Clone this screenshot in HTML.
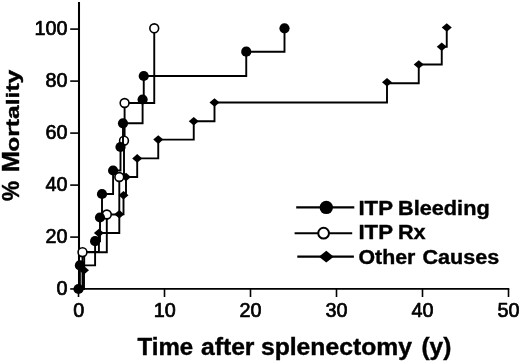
<!DOCTYPE html>
<html><head><meta charset="utf-8"><title>chart</title>
<style>
html,body{margin:0;padding:0;background:#fff;}
svg{display:block;font-family:"Liberation Sans",sans-serif;filter:grayscale(100%);}
.t{font-size:19.8px;fill:#000;stroke:#000;stroke-width:0.7px;stroke-linejoin:round;}
.b{font-weight:bold;fill:#000;stroke:#000;stroke-width:0.4px;}
</style></head><body>
<svg width="520" height="362" viewBox="0 0 520 362">
<rect width="520" height="362" fill="#fff"/>

<g stroke="#000" fill="none" stroke-linecap="butt">
<path d="M79 2 V289.8" stroke-width="2.05"/>
<path d="M78 288.95 H509.3" stroke-width="1.8"/>
</g>
<g stroke="#000" stroke-width="1.6" fill="none">
<path d="M70.2 288.95 H79"/>
<path d="M70.2 237.10 H79"/>
<path d="M70.2 185.10 H79"/>
<path d="M70.2 133.10 H79"/>
<path d="M70.2 81.10 H79"/>
<path d="M70.2 29.10 H79"/>
<path d="M78.50 289 V297"/>
<path d="M164.50 289 V297"/>
<path d="M250.50 289 V297"/>
<path d="M336.50 289 V297"/>
<path d="M422.50 289 V297"/>
<path d="M508.50 289 V297"/>
</g>
<text class="t" x="67.5" y="294.90" text-anchor="end">0</text>
<text class="t" x="67.5" y="242.90" text-anchor="end">20</text>
<text class="t" x="67.5" y="190.90" text-anchor="end">40</text>
<text class="t" x="67.5" y="138.90" text-anchor="end">60</text>
<text class="t" x="67.5" y="86.90" text-anchor="end">80</text>
<text class="t" x="67.5" y="34.90" text-anchor="end">100</text>
<text class="t" x="78.80" y="317.1" text-anchor="middle">0</text>
<text class="t" x="164.80" y="317.1" text-anchor="middle">10</text>
<text class="t" x="250.50" y="317.1" text-anchor="middle">20</text>
<text class="t" x="336.50" y="317.1" text-anchor="middle">30</text>
<text class="t" x="422.50" y="317.1" text-anchor="middle">40</text>
<text class="t" x="508.50" y="317.1" text-anchor="middle">50</text>
<g stroke="#000" stroke-width="1.90" fill="none" stroke-linejoin="miter"><path d="M78.50 289.00 H84.00 V270.30 H84.20 V252.00 H98.90 V233.00 H119.30 V214.30 H123.50 V195.30 H126.00 V177.00 H137.20 V158.40 H158.25 V139.60 H193.75 V121.30 H214.50 V102.50 H387.00 V83.20 H418.75 V64.50 H441.75 V46.80 H446.75 V27.50"/></g>
<path d="M79.00 270.30 l5.00 -4.30 l5.00 4.30 l-5.00 4.30 z" fill="#000"/>
<path d="M93.90 233.00 l5.00 -4.30 l5.00 4.30 l-5.00 4.30 z" fill="#000"/>
<path d="M114.30 214.30 l5.00 -4.30 l5.00 4.30 l-5.00 4.30 z" fill="#000"/>
<path d="M118.50 195.30 l5.00 -4.30 l5.00 4.30 l-5.00 4.30 z" fill="#000"/>
<path d="M121.00 177.00 l5.00 -4.30 l5.00 4.30 l-5.00 4.30 z" fill="#000"/>
<path d="M132.20 158.40 l5.00 -4.30 l5.00 4.30 l-5.00 4.30 z" fill="#000"/>
<path d="M153.25 139.60 l5.00 -4.30 l5.00 4.30 l-5.00 4.30 z" fill="#000"/>
<path d="M188.75 121.30 l5.00 -4.30 l5.00 4.30 l-5.00 4.30 z" fill="#000"/>
<path d="M209.50 102.50 l5.00 -4.30 l5.00 4.30 l-5.00 4.30 z" fill="#000"/>
<path d="M382.00 82.30 l5.00 -4.30 l5.00 4.30 l-5.00 4.30 z" fill="#000"/>
<path d="M413.75 64.50 l5.00 -4.30 l5.00 4.30 l-5.00 4.30 z" fill="#000"/>
<path d="M436.75 46.80 l5.00 -4.30 l5.00 4.30 l-5.00 4.30 z" fill="#000"/>
<path d="M441.75 27.50 l5.00 -4.30 l5.00 4.30 l-5.00 4.30 z" fill="#000"/>
<g stroke="#000" stroke-width="1.90" fill="none" stroke-linejoin="miter"><path d="M78.50 289.00 H82.50 V252.20 H106.80 V214.50 H119.30 V177.00 H124.00 V140.70 H124.60 V103.00 H154.25 V28.30"/></g>
<circle cx="82.50" cy="252.20" r="4.4" fill="#fff" stroke="#000" stroke-width="1.6"/>
<circle cx="106.80" cy="214.50" r="4.4" fill="#fff" stroke="#000" stroke-width="1.6"/>
<circle cx="119.30" cy="177.00" r="4.4" fill="#fff" stroke="#000" stroke-width="1.6"/>
<circle cx="124.00" cy="140.70" r="4.4" fill="#fff" stroke="#000" stroke-width="1.6"/>
<circle cx="124.60" cy="103.00" r="4.4" fill="#fff" stroke="#000" stroke-width="1.6"/>
<circle cx="154.25" cy="28.30" r="4.4" fill="#fff" stroke="#000" stroke-width="1.6"/>
<g stroke="#000" stroke-width="1.90" fill="none" stroke-linejoin="miter"><path d="M78.50 289.00 H79.90 V265.40 H95.10 V241.20 H100.00 V217.50 H102.00 V194.00 H113.10 V170.50 H120.50 V147.00 H123.00 V123.30 H142.60 V99.50 H143.75 V76.00 H246.25 V51.70 H284.50 V28.30"/></g>
<circle cx="78.50" cy="289.00" r="5.1" fill="#000"/>
<circle cx="79.90" cy="265.40" r="5.1" fill="#000"/>
<circle cx="95.10" cy="241.20" r="5.1" fill="#000"/>
<circle cx="100.00" cy="217.50" r="5.1" fill="#000"/>
<circle cx="102.00" cy="194.00" r="5.1" fill="#000"/>
<circle cx="113.10" cy="170.50" r="5.1" fill="#000"/>
<circle cx="120.50" cy="147.00" r="5.1" fill="#000"/>
<circle cx="123.00" cy="123.30" r="5.1" fill="#000"/>
<circle cx="142.60" cy="99.50" r="5.1" fill="#000"/>
<circle cx="143.75" cy="76.00" r="5.1" fill="#000"/>
<circle cx="246.25" cy="51.70" r="5.1" fill="#000"/>
<circle cx="284.50" cy="28.30" r="5.1" fill="#000"/>
<g stroke="#000" stroke-width="2.1"><path d="M296.2 207.4 H354.3"/><path d="M294.6 233.2 H352.2"/><path d="M297.3 256.6 H353.9"/></g>
<circle cx="326.3" cy="207.4" r="6.7" fill="#000"/>
<circle cx="323.6" cy="233.2" r="5.35" fill="#fff" stroke="#000" stroke-width="2"/>
<path d="M318.90 256.70 l7.40 -5.90 l7.40 5.90 l-7.40 5.90 z" fill="#000"/>
<text class="b" font-size="23.0" transform="translate(137.51 355.3) scale(1.0454 1)">Time</text>
<text class="b" font-size="23.0" transform="translate(200.95 355.3) scale(1.0738 1)">after</text>
<text class="b" font-size="23.0" transform="translate(260.94 355.3) scale(1.0743 1)">splenectomy</text>
<text class="b" font-size="23.0" transform="translate(421.4 355.3) scale(1.0638 1)">(y)</text>
<text class="b" font-size="21" transform="translate(358.42 215.35) scale(1.0593 1)">ITP</text>
<text class="b" font-size="21" transform="translate(397.96 215.35) scale(1.0346 1)">Bleeding</text>
<text class="b" font-size="21" transform="translate(358.42 239.45) scale(1.0593 1)">ITP</text>
<text class="b" font-size="21" transform="translate(397.95 239.45) scale(1.0327 1)">Rx</text>
<text class="b" font-size="21" transform="translate(358.48 264.1) scale(1.0147 1)">Other</text>
<text class="b" font-size="21" transform="translate(422.49 264.1) scale(1.0271 1)">Causes</text>
<text class="b" font-size="23.7" transform="translate(18.8 200.99) rotate(-90) scale(0.9524 1)">%</text>
<text class="b" font-size="23.7" transform="translate(18.8 172.13) rotate(-90) scale(1.0721 1)">M</text>
<text class="b" font-size="18.7" transform="translate(18.8 151.73) rotate(-90) scale(1.3163 1)">ortality</text>
</svg></body></html>
